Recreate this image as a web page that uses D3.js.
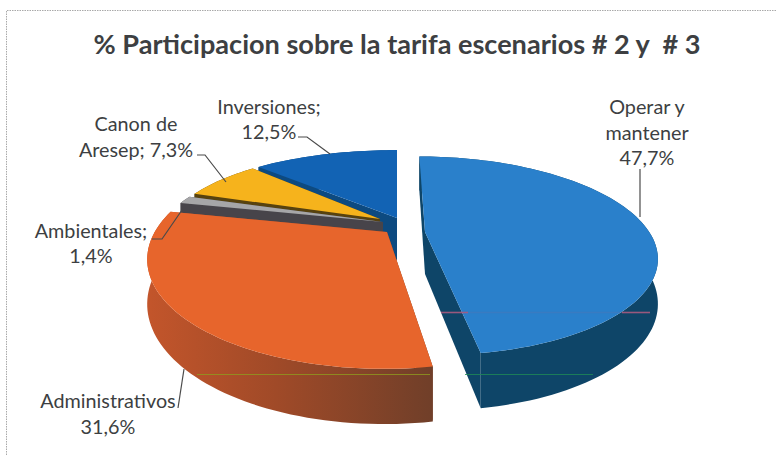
<!DOCTYPE html>
<html>
<head>
<meta charset="utf-8">
<title>% Participacion sobre la tarifa</title>
<script src="https://d3js.org/d3.v7.min.js"></script>
<style>
html, body { margin: 0; padding: 0; background: #fff; }
svg { display: block; }
text { font-family: Lato, "Open Sans", sans-serif; fill: #3d3f42; }
</style>
</head>
<body>
<svg></svg>
<script>
var titleText = "% Participacion sobre la tarifa escenarios # 2 y  # 3";
var categories = ["Operar y mantener", "Administrativos", "Ambientales", "Canon de Aresep", "Inversiones"];
var values = [47.7, 31.6, 1.4, 7.3, 12.5];
var valueLabels = ["47,7%", "31,6%", "1,4%", "7,3%", "12,5%"];

var width = 776, height = 455;

// fake 3d: perspective strength, half depth of the disc, radius, thickness
var persp = 0.24, depth = 104, radius = 230, thick = 42;

// each slice is pulled away from the centre by its own amount
var sliceLook = [
  { x: 425, y: 232, kx: 0.975, ky: 0.9, sk: 7, trim: 0, top: "#2a80cb", wall: "#0e4568" },
  { x: 387, y: 232, kx: 1.01, ky: 1, sk: -2, trim: 0.04, top: "#e7652c", wall: "url(#orangeWall)" },
  { x: 383, y: 222, kx: 0.96, ky: 0.8, sk: 0, trim: 0, top: "#a6a6a8", wall: "#47444a" },
  { x: 380, y: 219, kx: 0.92, ky: 0.8, sk: 0, trim: 0, top: "#f6b31c", wall: "#57420f" },
  { x: 397, y: 218, kx: 1, ky: 0.81, sk: 0, trim: 0, top: "#1263b4", wall: "#0d4a80" }
];

var svg = d3.select("svg").attr("width", width).attr("height", height);

var grad = svg.append("defs").append("linearGradient")
  .attr("id", "orangeWall")
  .attr("gradientUnits", "userSpaceOnUse")
  .attr("x1", 150).attr("x2", 430).attr("y1", 0).attr("y2", 0);
grad.append("stop").attr("offset", 0).attr("stop-color", "#c2552b");
grad.append("stop").attr("offset", 0.45).attr("stop-color", "#a04a28");
grad.append("stop").attr("offset", 1).attr("stop-color", "#713f29");

// scanned page frame
svg.append("path")
  .attr("d", "M6.5," + height + "V10.5H" + width)
  .attr("fill", "none")
  .attr("stroke", "#a9a9a9")
  .attr("stroke-dasharray", "1.5 1");

svg.append("text")
  .attr("x", 397)
  .attr("y", 54)
  .attr("text-anchor", "middle")
  .attr("font-size", 27.1)
  .attr("font-weight", 700)
  .attr("xml:space", "preserve")
  .style("white-space", "pre")
  .text(titleText);

var arcs = d3.pie().sort(null)(values);

// angle on the disc -> screen point
function project(look, a, down) {
  var u = Math.sin(a), v = -Math.cos(a);
  var s = 1 / (1 - persp * v);
  return [
    look.x + (radius * look.kx * u + look.sk * v) * s,
    look.y + depth * look.ky * v * s + down * s
  ];
}

function rimPoints(look, a0, a1, down) {
  var n = Math.max(2, Math.ceil((a1 - a0) / 0.03));
  return d3.range(n + 1).map(function(i) {
    return project(look, a0 + (a1 - a0) * i / n, down);
  });
}

var line = d3.line();
var pie3d = svg.append("g");

// paint back to front
[4, 3, 2, 1, 0].forEach(function(i) {
  var look = sliceLook[i], a0 = arcs[i].startAngle, a1 = arcs[i].endAngle - look.trim;
  var apex = [look.x, look.y], apexLow = [look.x, look.y + thick];

  [a0, a1].forEach(function(a) {
    pie3d.append("path")
      .attr("d", line([apex, project(look, a, 0), project(look, a, thick), apexLow]) + "Z")
      .attr("fill", look.wall);
  });

  pie3d.append("path")
    .attr("d", line(rimPoints(look, a0, a1, 0).concat(rimPoints(look, a0, a1, thick).reverse())) + "Z")
    .attr("fill", look.wall);

  pie3d.append("path")
    .attr("d", line([apex].concat(rimPoints(look, a0, a1, 0))) + "Z")
    .attr("fill", look.top);
});

// scanner streaks across the walls
var streaks = [
  { x1: 441, x2: 468, y: 312, c: "#a85a80", o: 0.9, w: 1.6 },
  { x1: 468, x2: 622, y: 312, c: "#b0587a", o: 0.12, w: 1.6 },
  { x1: 622, x2: 650, y: 312, c: "#a85a80", o: 0.9, w: 1.6 },
  { x1: 197, x2: 430, y: 374, c: "#8f9a1e", o: 0.8, w: 1 },
  { x1: 465, x2: 593, y: 374, c: "#1f8a55", o: 0.8, w: 1 }
];
svg.selectAll(".streak").data(streaks).enter().append("line")
  .attr("class", "streak")
  .attr("x1", function(d) { return d.x1; })
  .attr("x2", function(d) { return d.x2; })
  .attr("y1", function(d) { return d.y + 0.5; })
  .attr("y2", function(d) { return d.y + 0.5; })
  .attr("stroke", function(d) { return d.c; })
  .attr("stroke-width", function(d) { return d.w; })
  .attr("stroke-opacity", function(d) { return d.o; });

// labels: text lines and the leader that ties them to the slice
var labelLook = [
  { x: 647, y: [114, 140, 165], lines: ["Operar y", "mantener", valueLabels[0]],
    leader: [[640, 169], [640, 217]] },
  { x: 108, y: [408, 434], lines: ["Administrativos", valueLabels[1]],
    leader: [[178, 408], [184, 369]] },
  { x: 91, y: [238, 263], lines: ["Ambientales;", valueLabels[2]],
    leader: [[152, 239], [162, 239], [182, 210]] },
  { x: 136, y: [131, 157], lines: ["Canon de", "Aresep; " + valueLabels[3]],
    leader: [[197, 155], [205, 155], [226, 182]] },
  { x: 269, y: [114, 139], lines: ["Inversiones;", valueLabels[4]],
    leader: [[298, 137], [307, 137], [330, 154]] }
];

labelLook.forEach(function(l) {
  svg.append("path")
    .attr("d", d3.line()(l.leader))
    .attr("fill", "none")
    .attr("stroke", "#4a4a4a")
    .attr("stroke-width", 1.2);
  l.lines.forEach(function(t, k) {
    svg.append("text")
      .attr("x", l.x)
      .attr("y", l.y[k])
      .attr("text-anchor", "middle")
      .attr("font-size", 19.8)
      .text(t);
  });
});
</script>
</body>
</html>
